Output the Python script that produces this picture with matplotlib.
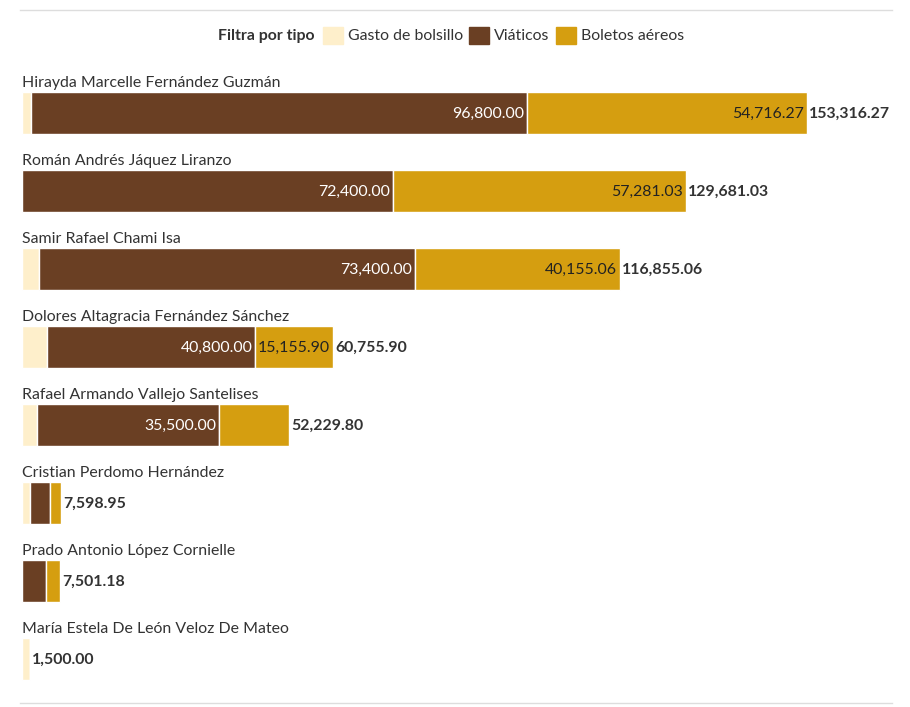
import matplotlib.pyplot as plt
from matplotlib.patches import Rectangle

# datos
nombres = [
    "Hirayda Marcelle Fernández Guzmán",
    "Román Andrés Jáquez Liranzo",
    "Samir Rafael Chami Isa",
    "Dolores Altagracia Fernández Sánchez",
    "Rafael Armando Vallejo Santelises",
    "Cristian Perdomo Hernández",
    "Prado Antonio López Cornielle",
    "María Estela De León Veloz De Mateo",
]
gasto_bolsillo = [1800, 0, 3300, 4800, 3000, 1600, 0, 1500]
viaticos = [96800, 72400, 73400, 40800, 35500, 3800, 4700, 0]
boletos = [54716.27, 57281.03, 40155.06, 15155.90, 13729.80, 2198.95, 2801.18, 0]

tipos = ["Gasto de bolsillo", "Viáticos", "Boletos aéreos"]
colores = ["#FEEFCB", "#6A3F23", "#D59E10"]

FONT = ["Lato", "DejaVu Sans"]
plt.rcParams["font.family"] = FONT

W, H = 910, 707
fig = plt.figure(figsize=(W / 100, H / 100), dpi=100)
ax = fig.add_axes([0, 0, 1, 1])
K = 1000 / 5.12  # unidades por pixel
x0 = 22
ax.set_xlim(-x0 * K, (W - x0) * K)
ax.set_ylim(H, 0)
ax.axis("off")

fs = 11.4
y_centros = [113 + 78 * i for i in range(len(nombres))]
alto = 42

lefts = [0] * len(nombres)
for serie, color, nombre_tipo in zip([gasto_bolsillo, viaticos, boletos], colores, tipos):
    ax.barh(y_centros, serie, left=lefts, height=alto, color=color,
            edgecolor="white", linewidth=1)
    for i, v in enumerate(serie):
        fin = lefts[i] + v
        if v / K > 74:
            tc = "white" if nombre_tipo == "Viáticos" else "#222222"
            ax.text(fin - 3 * K, y_centros[i] + 1, f"{v:,.2f}", ha="right",
                    va="center", fontsize=fs, color=tc)
    lefts = [l + v for l, v in zip(lefts, serie)]

for i, nombre in enumerate(nombres):
    ax.text(0, y_centros[i] - 30, nombre, ha="left", va="center",
            fontsize=fs, color="#333333")
    ax.text(lefts[i] + 2 * K, y_centros[i] + 1, f"{lefts[i]:,.2f}", ha="left",
            va="center", fontsize=fs, fontweight="bold", color="#333333")

# lineas de borde
ax.plot([(20 - x0) * K, (892 - x0) * K], [10, 10], color="#dddddd", lw=1)
ax.plot([(20 - x0) * K, (892 - x0) * K], [703, 703], color="#dddddd", lw=1)

# leyenda
ly = 36
fig.text(315 / W, 1 - ly / H, "Filtra por tipo", ha="right", va="center",
         fontsize=fs, fontweight="bold", color="#333333")
xs = [323, 469, 556]
for xi, t, c in zip(xs, tipos, colores):
    fig.patches.append(Rectangle((xi / W, 1 - (ly + 8) / H), 20 / W, 17 / H,
                                 transform=fig.transFigure, color=c))
    fig.text((xi + 25) / W, 1 - ly / H, t, ha="left", va="center",
             fontsize=fs, color="#333333")

fig.savefig("out.png", dpi=100)
